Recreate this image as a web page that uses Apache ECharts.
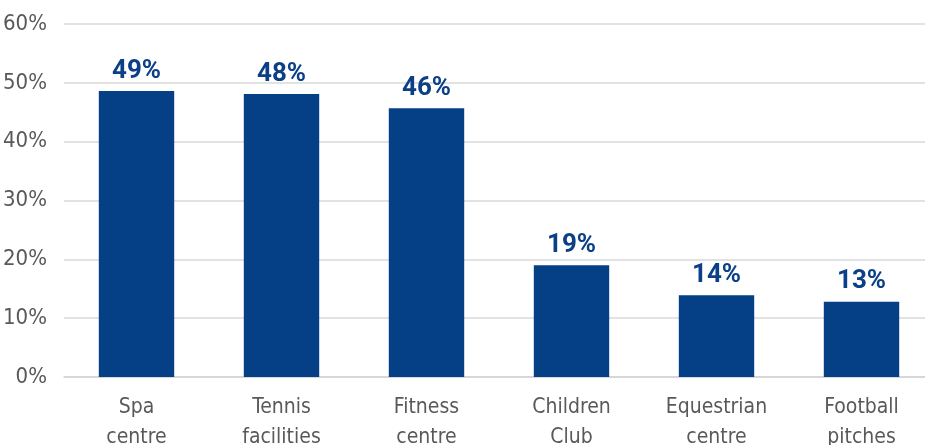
<!DOCTYPE html>
<html><head><meta charset="utf-8">
<script src="https://cdn.jsdelivr.net/npm/echarts@6/dist/echarts.min.js"></script>
<style>html,body{margin:0;padding:0;background:#fff}#c{width:925px;height:445px}</style>
</head><body><div id="c"></div>
<script>
const categories = ['Spa\ncentre', 'Tennis\nfacilities', 'Fitness\ncentre', 'Children\nClub', 'Equestrian\ncentre', 'Football\npitches'];
const values = [48.6, 48.1, 45.7, 19.0, 13.9, 12.8];
const yTicks = [0, 10, 20, 30, 40, 50, 60];

const axisFont = "'Liberation Sans Narrow', 'DejaVu Sans Condensed', 'Roboto', sans-serif";
const chart = echarts.init(document.getElementById('c'));
chart.setOption({
  animation: false,
  grid: { left: 64, width: 870, top: 24, bottom: 68, containLabel: false, outerBoundsMode: 'none' },
  xAxis: {
    type: 'category', data: categories,
    axisLine: { lineStyle: { color: '#d4d4d4', width: 1.5 } },
    axisTick: { show: false },
    axisLabel: { color: '#595959', fontSize: 21, fontFamily: axisFont, lineHeight: 30, margin: 16, interval: 0 }
  },
  yAxis: {
    type: 'value', min: yTicks[0], max: yTicks[yTicks.length - 1], interval: 10,
    axisLine: { show: false }, axisTick: { show: false },
    splitLine: { lineStyle: { color: '#d9d9d9', width: 1.5 } },
    axisLabel: { color: '#595959', fontSize: 22, fontFamily: axisFont, margin: 17, formatter: v => v + '%' }
  },
  series: [{
    type: 'bar', data: values, barWidth: '52%',
    itemStyle: { color: '#053f86' },
    label: { show: true, position: 'top', distance: 7, color: '#0b3f86', fontSize: 26, fontWeight: 'bold', fontFamily: 'Roboto, sans-serif',
      formatter: p => Math.round(p.value) + '%' }
  }]
});
</script></body></html>
